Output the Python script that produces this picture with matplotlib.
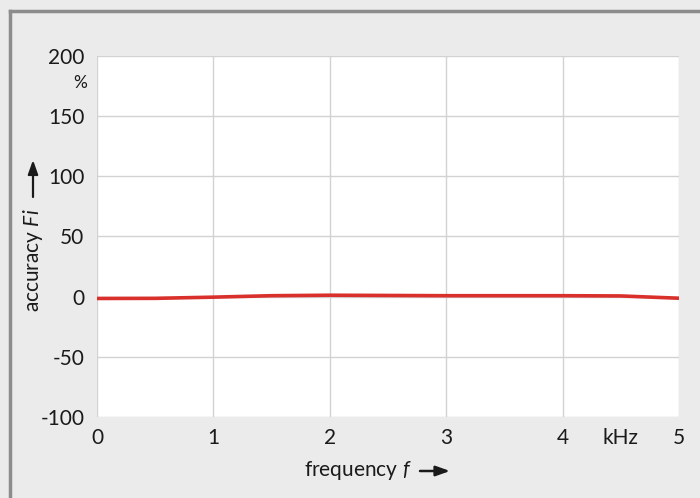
import matplotlib
matplotlib.use("Agg")
import matplotlib.pyplot as plt
from matplotlib.lines import Line2D
from matplotlib.patches import FancyArrowPatch

plt.rcParams["font.family"] = ["Lato", "DejaVu Sans"]
plt.rcParams["mathtext.fontset"] = "custom"
plt.rcParams["mathtext.rm"] = "Lato"
plt.rcParams["mathtext.it"] = "Lato:italic"
plt.rcParams["axes.unicode_minus"] = False

# data
freq_khz = [0, 0.5, 1.0, 1.5, 2.0, 2.5, 3.0, 3.5, 4.0, 4.5, 5.0]
accuracy = [-1.5, -1.4, -0.4, 0.8, 1.2, 1.0, 0.8, 0.8, 0.8, 0.6, -1.3]
x_ticks = [0, 1, 2, 3, 4, 5]
y_ticks = [-100, -50, 0, 50, 100, 150, 200]

W, H = 700, 498
bg = "#ebebeb"
ink = "#1a1a1a"


def px(x, y):
    # pixel position (from top-left) -> figure fraction
    return x / W, 1 - y / H


fig = plt.figure(figsize=(7.0, 4.98), dpi=100, facecolor=bg)
ax = fig.add_axes([97 / W, 1 - 417 / H, 582 / W, 361 / H])
ax.set_facecolor("white")

ax.plot(freq_khz, accuracy, color="#d9302c", lw=2.6, solid_capstyle="butt")

ax.set_xlim(0, 5)
ax.set_ylim(-100, 200)
ax.set_xticks(x_ticks)
ax.set_yticks(y_ticks)
ax.grid(True, color="#d2d2d2", lw=1)
ax.set_axisbelow(True)
for s in ax.spines.values():
    s.set_visible(False)
ax.tick_params(length=0, labelsize=15, colors=ink, pad=8)
ax.tick_params(axis="y", pad=9)

# unit labels
fig.text(*px(80, 83), "%", fontsize=12.5, ha="center", va="center", color=ink)
fig.text(*px(620, 438), "kHz", fontsize=15, ha="center", va="center", color=ink)

# axis titles
fig.text(*px(412, 470), "frequency $f$", fontsize=15, ha="right", va="center", color=ink)
fig.text(*px(33, 312), "accuracy $Fi$", fontsize=15, rotation=90,
         ha="center", va="bottom", color=ink)

arrow_style = "-|>,head_length=0.7,head_width=0.25"
fig.add_artist(FancyArrowPatch(px(420, 471), px(450, 471), transform=fig.transFigure,
                               arrowstyle=arrow_style, mutation_scale=12, color=ink, lw=1.8,
                               shrinkA=0, shrinkB=0))
fig.add_artist(FancyArrowPatch(px(33, 197), px(33, 160), transform=fig.transFigure,
                               arrowstyle=arrow_style, mutation_scale=12, color=ink, lw=1.6,
                               shrinkA=0, shrinkB=0))

# frame lines along top and left
fig.add_artist(Line2D([10 / W, 1], [1 - 11 / H, 1 - 11 / H], color="#8c8c8c", lw=2.5,
                      transform=fig.transFigure))
fig.add_artist(Line2D([10 / W, 10 / W], [0, 1 - 11 / H], color="#8c8c8c", lw=2.5,
                      transform=fig.transFigure))

fig.savefig("out.png", dpi=100, facecolor=bg)
